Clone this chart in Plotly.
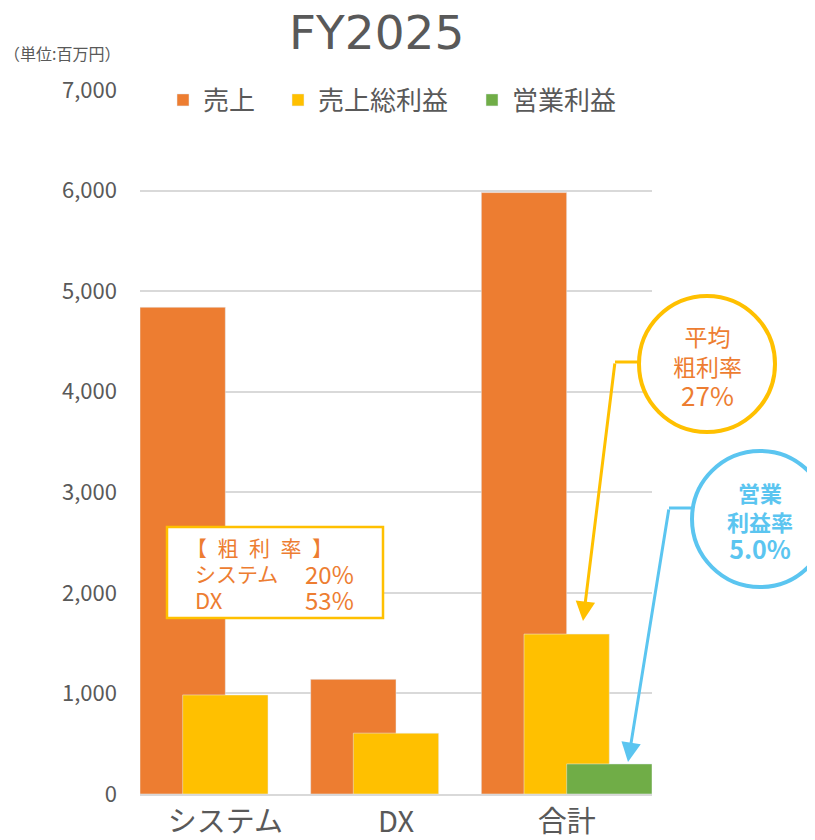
import plotly.graph_objects as go

# データ（百万円）
categories = ["システム", "DX", "合計"]
sales = [4840, 1140, 5980]
gross_profit = [985, 605, 1590]
operating_profit = [None, None, 299]
y_ticks = [0, 1000, 2000, 3000, 4000, 5000, 6000, 7000]

ORANGE = "#ED7D31"
YELLOW = "#FFC000"
GREEN = "#70AD47"
BLUE = "#5BC5F0"
GREY = "#595959"
FONT = "Noto Sans CJK JP"

# plot area in page pixels: x 140-652, y 90-794 (page body has an 8px margin)
def px_x(x):
    return (x - 140) / 512

def px_y(y):
    return (794 - y) / 704

fig = go.Figure()
fig.add_trace(go.Bar(x=categories, y=sales, name="売上", marker_color=ORANGE,
                     width=0.5, offset=-0.5, legend="legend"))
fig.add_trace(go.Bar(x=categories, y=gross_profit, name="売上総利益", marker_color=YELLOW,
                     width=0.5, offset=-0.25, legend="legend2"))
fig.add_trace(go.Bar(x=categories, y=operating_profit, name="営業利益", marker_color=GREEN,
                     width=0.5, offset=0, legend="legend3"))

def legend_at(left):
    return dict(orientation="h", x=px_x(left), y=px_y(100), xanchor="left", yanchor="middle",
                font=dict(size=26, color=GREY), bgcolor="rgba(0,0,0,0)")

fig.update_layout(
    width=807, height=832,
    barmode="overlay",
    plot_bgcolor="white", paper_bgcolor="white",
    font=dict(family=FONT, color=GREY),
    margin=dict(l=132, r=163, t=82, b=46, autoexpand=False),
    showlegend=True,
    legend=legend_at(163),
    legend2=legend_at(278),
    legend3=legend_at(472),
)
fig.update_xaxes(showline=True, linecolor="#D9D9D9", linewidth=2,
                 tickfont=dict(size=29, color=GREY), ticks="", ticklabelstandoff=1)
fig.update_yaxes(range=[0, 7000], tickvals=y_ticks, tickformat=",",
                 gridcolor="#D9D9D9", gridwidth=1.5, zeroline=False,
                 tickfont=dict(size=22, color=GREY), ticklabelstandoff=22)

shapes = [
    # 7000の目盛線は凡例に隠れている
    dict(type="line", xref="paper", yref="y", x0=0, x1=px_x(645), y0=7000, y1=7000,
         line=dict(color="white", width=4), layer="above"),
    # 粗利率ボックス
    dict(type="rect", xref="paper", yref="paper", x0=px_x(167), x1=px_x(383),
         y0=px_y(618), y1=px_y(527), line=dict(color=YELLOW, width=2.5),
         fillcolor="white", layer="above"),
    # 平均粗利率の円
    dict(type="line", xref="paper", yref="paper", x0=px_x(615), x1=px_x(640),
         y0=px_y(362), y1=px_y(362), line=dict(color=YELLOW, width=3), layer="above"),
    dict(type="circle", xref="paper", yref="paper", x0=px_x(639), x1=px_x(775),
         y0=px_y(432), y1=px_y(296), line=dict(color=YELLOW, width=4),
         fillcolor="white", layer="above"),
    # 営業利益率の円
    dict(type="line", xref="paper", yref="paper", x0=px_x(669), x1=px_x(694),
         y0=px_y(508), y1=px_y(508), line=dict(color=BLUE, width=3), layer="above"),
    dict(type="circle", xref="paper", yref="paper", x0=px_x(692), x1=px_x(828),
         y0=px_y(587), y1=px_y(451), line=dict(color=BLUE, width=4),
         fillcolor="white", layer="above"),
]
fig.update_layout(shapes=shapes)

ann = [
    dict(text="FY2025", x=px_x(376), y=px_y(33), font=dict(family="DejaVu Sans", size=47, color=GREY)),
    dict(text="（単位:百万円）", x=px_x(62), y=px_y(53), font=dict(size=16, color=GREY)),
    # ボックス内テキスト
    dict(text="【\u2002粗\u2002利\u2002率\u2002】", x=px_x(259), y=px_y(547), font=dict(size=21, color=ORANGE)),
    dict(text="システム", x=px_x(193), y=px_y(573), xanchor="left", font=dict(size=21, color=ORANGE)),
    dict(text="20%", x=px_x(356), y=px_y(573), xanchor="right", font=dict(size=24, color=ORANGE)),
    dict(text="DX", x=px_x(193), y=px_y(599), xanchor="left", font=dict(size=22, color=ORANGE)),
    dict(text="53%", x=px_x(356), y=px_y(599), xanchor="right", font=dict(size=24, color=ORANGE)),
    # 円内テキスト
    dict(text="平均<br>粗利率<br><span style='font-size:26px'>27%</span>", x=px_x(707), y=px_y(366),
         font=dict(size=23, color=ORANGE)),
    dict(text="<b>営業<br>利益率<br><span style='font-size:25px'>5.0%</span></b>", x=px_x(760), y=px_y(521),
         font=dict(size=22, color=BLUE)),
]
for a in ann:
    fig.add_annotation(xref="paper", yref="paper", showarrow=False,
                       xanchor=a.pop("xanchor", "center"), yanchor="middle", **a)

# 矢印
fig.add_annotation(xref="paper", yref="paper", x=px_x(583), y=px_y(621), text="",
                   showarrow=True, axref="pixel", ayref="pixel", ax=32, ay=-259,
                   arrowhead=2, arrowsize=1.3, arrowwidth=3, arrowcolor=YELLOW, standoff=0)
fig.add_annotation(xref="paper", yref="paper", x=px_x(628), y=px_y(762), text="",
                   showarrow=True, axref="pixel", ayref="pixel", ax=41, ay=-254,
                   arrowhead=2, arrowsize=1.3, arrowwidth=3, arrowcolor=BLUE, standoff=0)

fig.write_html("out.html")
